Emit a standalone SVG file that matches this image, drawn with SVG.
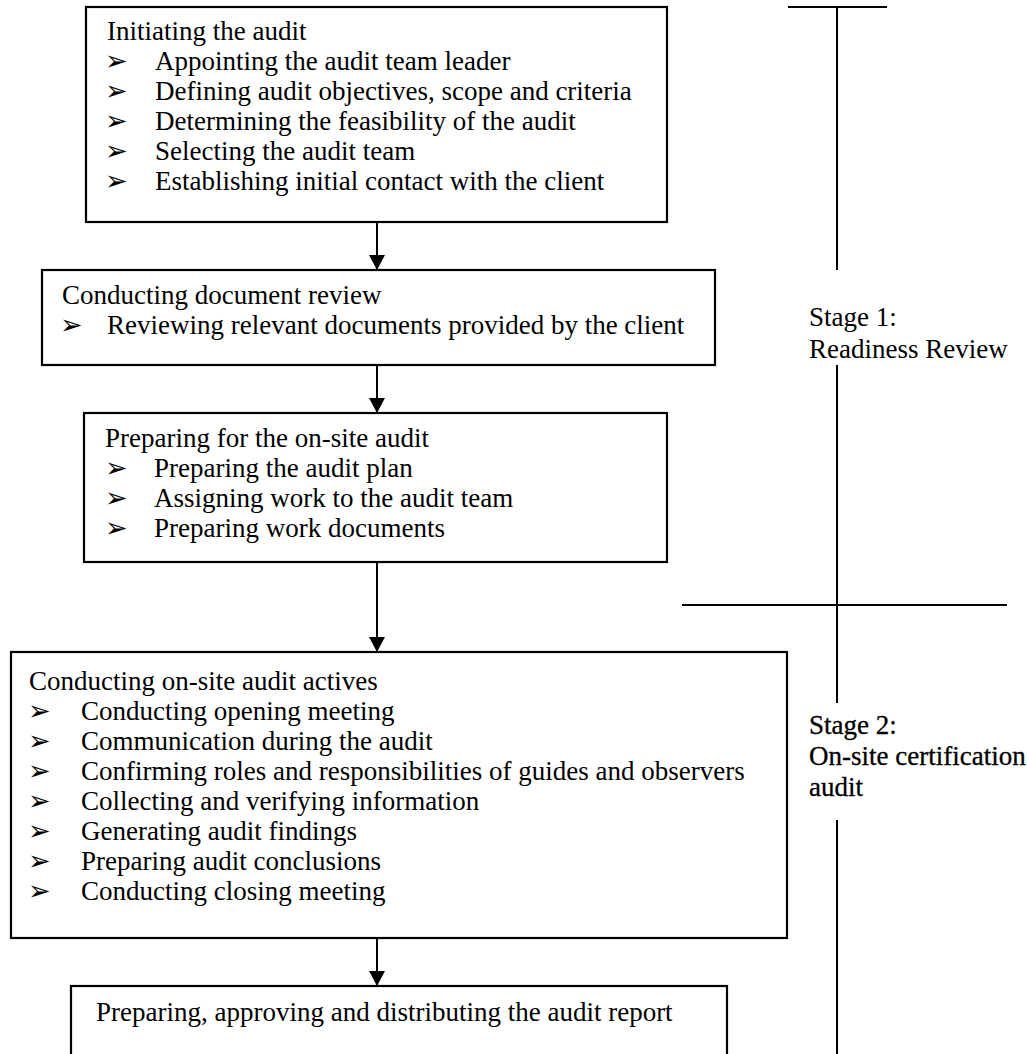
<svg xmlns="http://www.w3.org/2000/svg" width="1027" height="1054" viewBox="0 0 1027 1054">
<style>
text{font-family:"Liberation Serif","Times New Roman",serif;font-size:27px;fill:#000}
.b{font-family:"DejaVu Sans",sans-serif;font-size:27px}
.s2{stroke:#000;stroke-width:0.3}
.box{fill:#fff;stroke:#000;stroke-width:2.2}
.ln{stroke:#000;stroke-width:2;fill:none}
</style>
<defs>
<marker id="ah" markerWidth="16" markerHeight="16" refX="15" refY="8" orient="auto" markerUnits="userSpaceOnUse">
<path d="M0,0 L15,8 L0,16 z" fill="#000"/>
</marker>
</defs>
<g id="n1">
<rect class="box" x="86" y="7" width="581" height="215"/>
<text x="107" y="40">Initiating the audit</text>
<text class="b" x="105" y="70">➢</text><text x="155" y="70">Appointing the audit team leader</text>
<text class="b" x="105" y="100">➢</text><text x="155" y="100">Defining audit objectives, scope and criteria</text>
<text class="b" x="105" y="130">➢</text><text x="155" y="130">Determining the feasibility of the audit</text>
<text class="b" x="105" y="160">➢</text><text x="155" y="160">Selecting the audit team</text>
<text class="b" x="105" y="190">➢</text><text x="155" y="190">Establishing initial contact with the client</text>
</g>
<g id="n2">
<rect class="box" x="42" y="270" width="673" height="95"/>
<text x="62" y="304">Conducting document review</text>
<text class="b" x="60" y="334">➢</text><text x="107" y="334">Reviewing relevant documents provided by the client</text>
</g>
<g id="n3">
<rect class="box" x="84" y="413" width="583" height="149"/>
<text x="105" y="447">Preparing for the on-site audit</text>
<text class="b" x="105" y="477">➢</text><text x="154" y="477">Preparing the audit plan</text>
<text class="b" x="105" y="507">➢</text><text x="154" y="507">Assigning work to the audit team</text>
<text class="b" x="105" y="537">➢</text><text x="154" y="537">Preparing work documents</text>
</g>
<g id="n4">
<rect class="box" x="11" y="652" width="776" height="286"/>
<text x="29" y="690">Conducting on-site audit actives</text>
<text class="b" x="28" y="720">➢</text><text x="81" y="720">Conducting opening meeting</text>
<text class="b" x="28" y="750">➢</text><text x="81" y="750">Communication during the audit</text>
<text class="b" x="28" y="780">➢</text><text x="81" y="780">Confirming roles and responsibilities of guides and observers</text>
<text class="b" x="28" y="810">➢</text><text x="81" y="810">Collecting and verifying information</text>
<text class="b" x="28" y="840">➢</text><text x="81" y="840">Generating audit findings</text>
<text class="b" x="28" y="870">➢</text><text x="81" y="870">Preparing audit conclusions</text>
<text class="b" x="28" y="900">➢</text><text x="81" y="900">Conducting closing meeting</text>
</g>
<g id="n5">
<rect class="box" x="71" y="986" width="656" height="90"/>
<text x="96" y="1021">Preparing, approving and distributing the audit report</text>
</g>
<g id="stages">
<text x="809" y="326">Stage 1:</text>
<text x="809" y="358">Readiness Review</text>
<text class="s2" x="809" y="734">Stage 2:</text>
<text class="s2" x="809" y="765">On-site certification</text>
<text class="s2" x="809" y="796">audit</text>
</g>
<g id="connectors">
<line class="ln" x1="377" y1="222" x2="377" y2="270" marker-end="url(#ah)"/>
<line class="ln" x1="377" y1="365" x2="377" y2="413" marker-end="url(#ah)"/>
<line class="ln" x1="377" y1="562" x2="377" y2="652" marker-end="url(#ah)"/>
<line class="ln" x1="377" y1="938" x2="377" y2="986" marker-end="url(#ah)"/>
<line class="ln" x1="788" y1="7" x2="887" y2="7"/>
<line class="ln" x1="837" y1="7" x2="837" y2="270"/>
<line class="ln" x1="837" y1="365" x2="837" y2="703"/>
<line class="ln" x1="682" y1="605" x2="1007" y2="605"/>
<line class="ln" x1="837" y1="820" x2="837" y2="1054"/>
</g>
</svg>
